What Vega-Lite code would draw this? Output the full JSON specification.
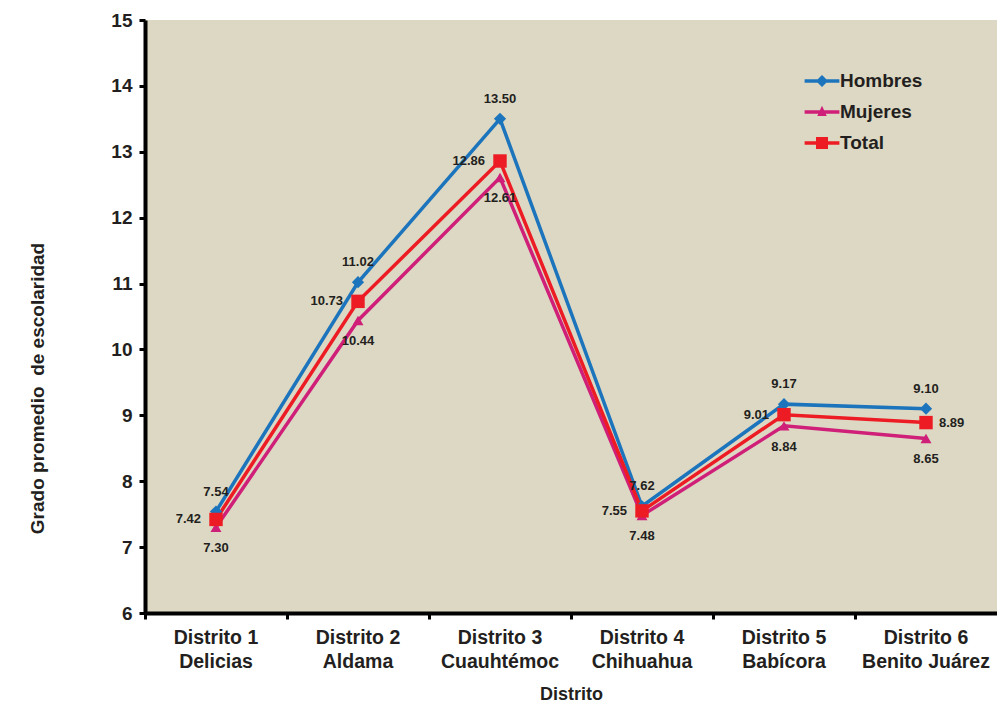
{
  "$schema": "https://vega.github.io/schema/vega-lite/v6.json",
  "width": 852,
  "height": 593,
  "autosize": "none",
  "padding": {"left": 145, "top": 20, "right": 0, "bottom": 93},
  "background": "white",
  "config": {
    "view": {"fill": "#DDD8C3", "stroke": null},
    "font": "Liberation Sans",
    "legend": {
      "orient": "none",
      "legendX": 661,
      "legendY": 45,
      "labelFont": "Liberation Sans",
      "labelFontSize": 19,
      "labelFontWeight": "bold",
      "labelColor": "#231F20",
      "labelOffset": 2,
      "symbolSize": 1000,
      "symbolStrokeWidth": 0,
      "symbolOpacity": 1,
      "rowPadding": 5
    }
  },
  "data": {
    "values": [
      {"distrito": "Distrito 1\nDelicias", "serie": "Hombres", "valor": 7.54},
      {"distrito": "Distrito 2\nAldama", "serie": "Hombres", "valor": 11.02},
      {"distrito": "Distrito 3\nCuauhtémoc", "serie": "Hombres", "valor": 13.50},
      {"distrito": "Distrito 4\nChihuahua", "serie": "Hombres", "valor": 7.62},
      {"distrito": "Distrito 5\nBabícora", "serie": "Hombres", "valor": 9.17},
      {"distrito": "Distrito 6\nBenito Juárez", "serie": "Hombres", "valor": 9.10},
      {"distrito": "Distrito 1\nDelicias", "serie": "Mujeres", "valor": 7.30},
      {"distrito": "Distrito 2\nAldama", "serie": "Mujeres", "valor": 10.44},
      {"distrito": "Distrito 3\nCuauhtémoc", "serie": "Mujeres", "valor": 12.61},
      {"distrito": "Distrito 4\nChihuahua", "serie": "Mujeres", "valor": 7.48},
      {"distrito": "Distrito 5\nBabícora", "serie": "Mujeres", "valor": 8.84},
      {"distrito": "Distrito 6\nBenito Juárez", "serie": "Mujeres", "valor": 8.65},
      {"distrito": "Distrito 1\nDelicias", "serie": "Total", "valor": 7.42},
      {"distrito": "Distrito 2\nAldama", "serie": "Total", "valor": 10.73},
      {"distrito": "Distrito 3\nCuauhtémoc", "serie": "Total", "valor": 12.86},
      {"distrito": "Distrito 4\nChihuahua", "serie": "Total", "valor": 7.55},
      {"distrito": "Distrito 5\nBabícora", "serie": "Total", "valor": 9.01},
      {"distrito": "Distrito 6\nBenito Juárez", "serie": "Total", "valor": 8.89}
    ]
  },
  "encoding": {
    "x": {
      "field": "distrito",
      "type": "nominal",
      "sort": null,
      "scale": {"type": "band", "paddingInner": 0, "paddingOuter": 0},
      "axis": {
        "title": "Distrito",
        "titleFont": "Liberation Sans",
        "titleFontSize": 18,
        "titleFontWeight": "bold",
        "titleColor": "#231F20",
        "titlePadding": 15,
        "labelAngle": 0,
        "labelExpr": "split(datum.label, '\\n')",
        "labelFont": "Liberation Sans",
        "labelFontSize": 19.5,
        "labelFontWeight": "bold",
        "labelColor": "#231F20",
        "labelLineHeight": 24,
        "labelPadding": 9,
        "labelBaseline": "top",
        "bandPosition": 0,
        "domainColor": "#000000",
        "domainWidth": 4,
        "tickColor": "#000000",
        "tickWidth": 3,
        "tickSize": 6,
        "grid": false
      }
    },
    "y": {
      "field": "valor",
      "type": "quantitative",
      "scale": {"domain": [6, 15], "nice": false, "zero": false},
      "axis": {
        "title": "Grado promedio\u00a0 de escolaridad",
        "titleFont": "Liberation Sans",
        "titleFontSize": 19,
        "titleFontWeight": "bold",
        "titleColor": "#231F20",
        "titleX": -102,
        "titleY": 368,
        "titleAngle": -90,
        "titleAlign": "center",
        "titleBaseline": "alphabetic",
        "values": [6, 7, 8, 9, 10, 11, 12, 13, 14, 15],
        "labelFont": "Liberation Sans",
        "labelFontSize": 19,
        "labelFontWeight": "bold",
        "labelColor": "#231F20",
        "labelPadding": 7,
        "domainColor": "#000000",
        "domainWidth": 4,
        "tickColor": "#000000",
        "tickWidth": 3,
        "tickSize": 6,
        "grid": false
      }
    },
    "color": {
      "field": "serie",
      "type": "nominal",
      "scale": {"domain": ["Hombres", "Mujeres", "Total"], "range": ["#1C75BC", "#CF1F78", "#ED1C24"]},
      "legend": {"title": null}
    }
  },
  "layer": [
    {
      "transform": [{"filter": "false"}],
      "mark": {"type": "point", "filled": true, "opacity": 1},
      "encoding": {
        "shape": {
          "field": "serie",
          "type": "nominal",
          "scale": {
            "domain": ["Hombres", "Mujeres", "Total"],
            "range": [
              "M-1.1,-0.11H-0.27L0,-0.38L0.27,-0.11H1.1V0.11H0.27L0,0.38L-0.27,0.11H-1.1Z",
              "M-1.1,-0.11H-0.134L0,-0.4L0.134,-0.11H1.1V0.11H0.235L0.3,0.25H-0.3L-0.235,0.11H-1.1Z",
              "M-1.1,-0.11H-0.38V-0.38H0.38V-0.11H1.1V0.11H0.38V0.38H-0.38V0.11H-1.1Z"
            ]
          },
          "legend": {"title": null}
        }
      }
    },
    {"mark": {"type": "line", "strokeWidth": 3.5}},
    {
      "transform": [{"filter": "datum.serie === 'Hombres'"}],
      "mark": {"type": "point", "filled": true, "opacity": 1, "shape": "diamond", "size": 150}
    },
    {
      "transform": [{"filter": "datum.serie === 'Mujeres'"}],
      "mark": {"type": "point", "filled": true, "opacity": 1, "shape": "triangle-up", "size": 120}
    },
    {
      "transform": [{"filter": "datum.serie === 'Total'"}],
      "mark": {"type": "point", "filled": true, "opacity": 1, "shape": "square", "size": 180}
    },
    {
      "transform": [{"filter": "datum.serie === 'Hombres'"}],
      "mark": {"type": "text", "dy": -20, "fontSize": 13, "fontWeight": "bold", "font": "Liberation Sans", "color": "#231F20", "baseline": "middle"},
      "encoding": {"text": {"field": "valor", "type": "quantitative", "format": ".2f"}, "color": {"value": "#231F20"}}
    },
    {
      "transform": [{"filter": "datum.serie === 'Mujeres'"}],
      "mark": {"type": "text", "dy": 21, "fontSize": 13, "fontWeight": "bold", "font": "Liberation Sans", "color": "#231F20", "baseline": "middle"},
      "encoding": {"text": {"field": "valor", "type": "quantitative", "format": ".2f"}, "color": {"value": "#231F20"}}
    },
    {
      "transform": [{"filter": "datum.serie === 'Total' && substring(datum.distrito, 0, 10) !== 'Distrito 6'"}],
      "mark": {"type": "text", "dx": -15, "align": "right", "fontSize": 13, "fontWeight": "bold", "font": "Liberation Sans", "color": "#231F20", "baseline": "middle"},
      "encoding": {"text": {"field": "valor", "type": "quantitative", "format": ".2f"}, "color": {"value": "#231F20"}}
    },
    {
      "transform": [{"filter": "datum.serie === 'Total' && substring(datum.distrito, 0, 10) === 'Distrito 6'"}],
      "mark": {"type": "text", "dx": 13, "align": "left", "fontSize": 13, "fontWeight": "bold", "font": "Liberation Sans", "color": "#231F20", "baseline": "middle"},
      "encoding": {"text": {"field": "valor", "type": "quantitative", "format": ".2f"}, "color": {"value": "#231F20"}}
    }
  ]
}
